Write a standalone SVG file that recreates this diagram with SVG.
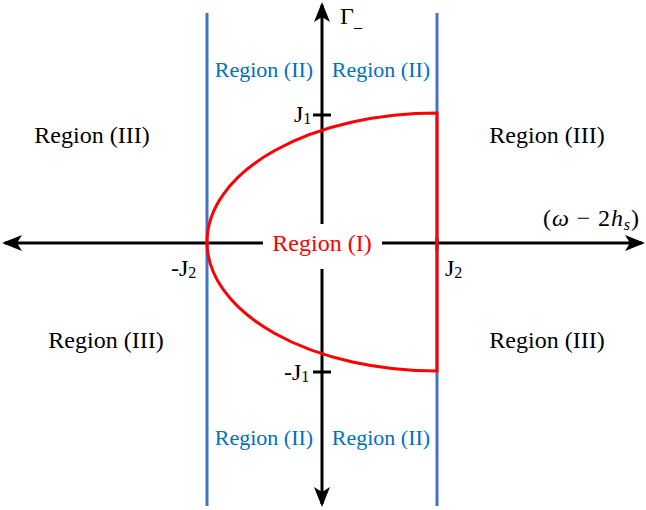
<svg xmlns="http://www.w3.org/2000/svg" width="646" height="510" viewBox="0 0 646 510" font-family="'Liberation Serif', 'Times New Roman', serif">
<defs>
<style>
.ax{stroke:#000;stroke-width:3;fill:none}
.bl{stroke:#4472C4;stroke-width:3;fill:none}
.rd{stroke:#FF0000;stroke-width:3;fill:none}
.r3{font-size:24px;fill:#000;text-anchor:middle}
.r2{font-size:22px;fill:#0070C0;text-anchor:middle}
.r1{font-size:24px;fill:#FF0000;text-anchor:middle}
.lb{font-size:24px;fill:#000}
.sub{font-size:16px}
</style>
<marker id="ah" viewBox="0 0 20 16" refX="17" refY="8" markerWidth="20" markerHeight="16" markerUnits="userSpaceOnUse" orient="auto">
<path d="M0,0 L20,8 L0,16 L5,8 Z" fill="#000"/>
</marker>
</defs>
<g id="connectors">
<line class="ax" x1="322" y1="243" x2="322" y2="5" marker-end="url(#ah)"/>
<line class="ax" x1="322" y1="243" x2="322" y2="504" marker-end="url(#ah)"/>
<line class="ax" x1="322" y1="243" x2="642" y2="243" marker-end="url(#ah)"/>
<line class="ax" x1="322" y1="243" x2="5" y2="243" marker-end="url(#ah)"/>
<line class="ax" x1="313" y1="115" x2="331" y2="115"/>
<line class="ax" x1="313" y1="372" x2="331" y2="372"/>
<line class="ax" x1="437" y1="237" x2="437" y2="250"/>
<line class="bl" x1="207" y1="13" x2="207" y2="506"/>
<line class="bl" x1="437" y1="13" x2="437" y2="506"/>
<path class="rd" d="M437,113 A230,129 0 0 0 437,371 Z"/>
</g>
<g id="region-I">
<rect x="263" y="224" width="119" height="45" fill="#fff"/>
<text class="r1" x="322" y="251">Region (I)</text>
</g>
<g id="region-II">
<text class="r2" x="264" y="77">Region (II)</text>
<text class="r2" x="381" y="77">Region (II)</text>
<text class="r2" x="264" y="445">Region (II)</text>
<text class="r2" x="381" y="445">Region (II)</text>
</g>
<g id="region-III">
<text class="r3" x="92" y="143">Region (III)</text>
<text class="r3" x="547" y="143">Region (III)</text>
<text class="r3" x="106" y="348">Region (III)</text>
<text class="r3" x="547" y="348">Region (III)</text>
</g>
<g id="labels">
<text class="lb" x="340" y="24">Γ<tspan class="sub" dy="3">_</tspan></text>
<text class="lb" x="294" y="122">J<tspan class="sub" dy="2">1</tspan></text>
<text class="lb" x="284" y="380">-J<tspan class="sub" dy="2">1</tspan></text>
<text class="lb" x="171" y="276">-J<tspan class="sub" dy="2">2</tspan></text>
<text class="lb" x="445" y="276">J<tspan class="sub" dy="2">2</tspan></text>
<text class="lb" x="543" y="226" textLength="96" lengthAdjust="spacing">(<tspan font-style="italic">ω</tspan> − 2<tspan font-style="italic">h</tspan><tspan class="sub" font-style="italic" dy="4">s</tspan><tspan dy="-4">)</tspan></text>
</g>
</svg>
